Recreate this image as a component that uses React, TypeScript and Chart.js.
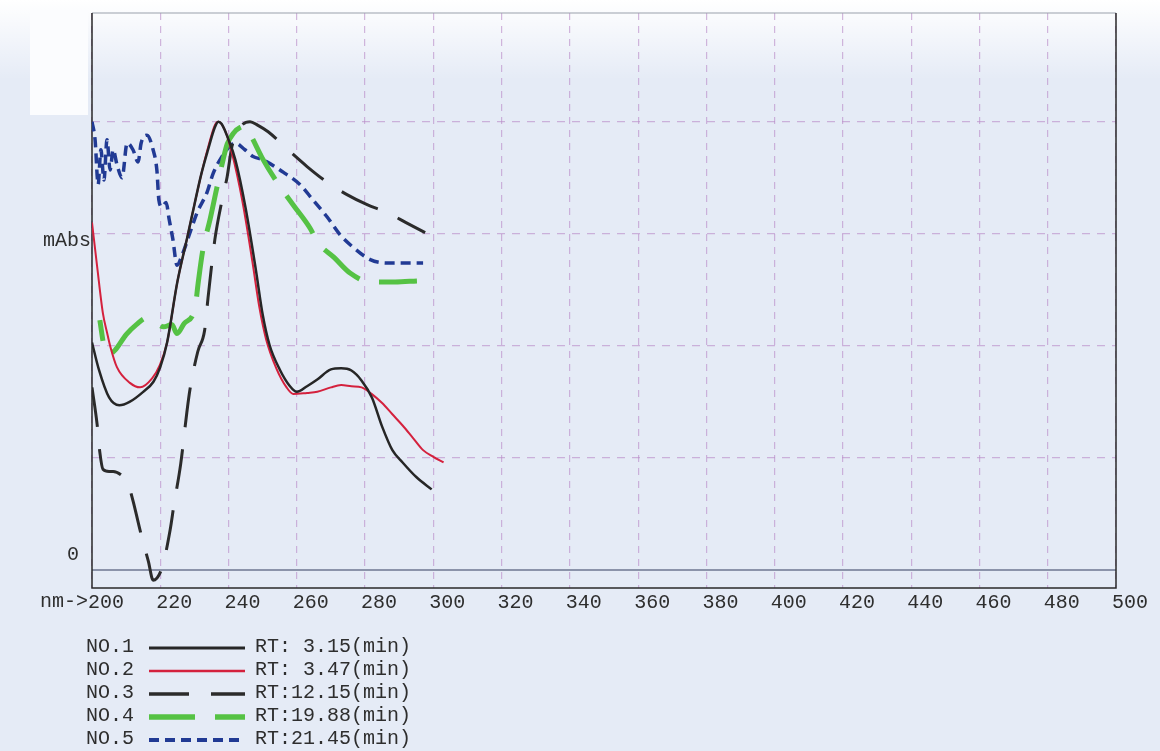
import React, { useEffect, useRef } from "react";
import { Chart, registerables } from "chart.js";

Chart.register(...registerables);

// UV spectra of five peaks, wavelength (nm) vs. absorbance (mAbs, normalised)
const no1Nm = [200, 202, 205, 208, 211, 215, 218, 220, 222, 225, 228, 230, 232, 234, 236, 237, 238, 240, 242, 245, 248, 250, 252, 255, 258, 260, 263, 266, 270, 273, 276, 279, 282, 285, 288, 291, 295, 299.5];
const no1Abs = [2.03, 1.79, 1.54, 1.47, 1.5, 1.59, 1.68, 1.81, 2.03, 2.57, 2.98, 3.26, 3.53, 3.75, 3.95, 4.0, 3.98, 3.84, 3.66, 3.23, 2.68, 2.28, 2.01, 1.79, 1.64, 1.59, 1.64, 1.7, 1.79, 1.8, 1.78, 1.69, 1.54, 1.28, 1.07, 0.96, 0.83, 0.72];

const no2Nm = [200, 201.5, 203.2, 204.4, 205.4, 207.3, 211.1, 214.1, 217.6, 219.9, 222, 225, 228, 230, 232, 234, 236, 237, 239, 241, 244, 247, 249, 251, 254, 257, 259, 263, 266, 270, 273, 276, 279, 282, 285, 288, 291, 294, 297, 300, 303];
const no2Abs = [3.1, 2.71, 2.29, 2.12, 1.99, 1.81, 1.67, 1.63, 1.71, 1.83, 2.03, 2.57, 2.98, 3.26, 3.53, 3.77, 3.97, 4.0, 3.92, 3.72, 3.3, 2.75, 2.35, 2.06, 1.8, 1.63, 1.57, 1.58, 1.59, 1.63, 1.65, 1.64, 1.63, 1.57, 1.49, 1.39, 1.29, 1.18, 1.07, 1.01, 0.96];

const no3Nm = [200, 201.5, 202.3, 203.2, 205, 206.2, 208.5, 210.3, 212, 213.5, 214.7, 216.5, 217.9, 220.5, 222.9, 224, 226, 227.8, 228.7, 231, 233, 234, 236, 238.1, 239.6, 241, 243.4, 246.3, 248.5, 251.6, 257.4, 263, 268.9, 274.7, 280.6, 286.4, 292, 297.6];
const no3Abs = [1.63, 1.3, 1.05, 0.9, 0.88, 0.88, 0.85, 0.79, 0.62, 0.43, 0.28, 0.08, -0.09, 0.02, 0.36, 0.58, 0.95, 1.41, 1.61, 1.95, 2.14, 2.43, 2.95, 3.3, 3.51, 3.78, 3.95, 4.0, 3.97, 3.91, 3.75, 3.6, 3.46, 3.35, 3.26, 3.19, 3.1, 3.01];

const no4Nm = [202.3, 203.5, 204.7, 206.7, 210, 213, 216, 217.9, 221, 223.4, 224.9, 227, 230.2, 231.1, 232.5, 234.6, 236.5, 238.4, 239.6, 241.5, 243.5, 245, 247, 249.8, 254.2, 258.9, 263.9, 266.2, 270.9, 275.6, 281.5, 288.8, 295.2];
const no4Abs = [2.23, 2.0, 1.92, 1.96, 2.1, 2.19, 2.25, 2.23, 2.17, 2.19, 2.11, 2.2, 2.34, 2.56, 2.86, 3.13, 3.4, 3.66, 3.8, 3.9, 3.95, 3.96, 3.85, 3.68, 3.46, 3.26, 3.05, 2.92, 2.79, 2.65, 2.57, 2.57, 2.58];

const no5Nm = [200, 200.9, 201.8, 202.6, 203.5, 204.4, 205.3, 206.2, 207.3, 208.8, 210.3, 212, 213.5, 214.4, 216.1, 217.9, 219, 219.6, 220.5, 221.7, 222.6, 223.7, 224.9, 226.4, 228.7, 230.8, 233.7, 235.5, 237.5, 239.5, 241.9, 244.8, 247.2, 250.1, 256, 260.9, 264.8, 268.9, 272.7, 276.5, 281.5, 286.4, 291.1, 297];
const no5Abs = [4.0, 3.84, 3.44, 3.75, 3.48, 3.84, 3.57, 3.75, 3.62, 3.5, 3.81, 3.75, 3.64, 3.81, 3.88, 3.75, 3.57, 3.3, 3.24, 3.28, 3.13, 2.95, 2.72, 2.81, 3.01, 3.19, 3.37, 3.54, 3.66, 3.75, 3.81, 3.75, 3.69, 3.66, 3.55, 3.44, 3.3, 3.15, 2.99, 2.88, 2.77, 2.74, 2.74, 2.74];

const seriesNames = ["NO.1", "NO.2", "NO.3", "NO.4", "NO.5"];
const retentionTimes = ["3.15", "3.47", "12.15", "19.88", "21.45"];
const yGridValues = [1, 2, 3, 4];

const MONO = '"Liberation Mono", "DejaVu Sans Mono", monospace';
const TEXT = "#2e2e2e";
const GRID = "rgba(186, 140, 200, 0.62)";

const pairs = (xs: number[], ys: number[]) => xs.map((x, i) => ({ x, y: ys[i] }));

const seriesStyles = [
  { color: "#262626", width: 2.5, dash: [] as number[], offset: 0 },
  { color: "#d4213d", width: 2, dash: [] as number[], offset: 0 },
  { color: "#2b2b2b", width: 3, dash: [40, 22], offset: 0 },
  { color: "#55c244", width: 5, dash: [46, 20], offset: 25 },
  { color: "#213a94", width: 3.5, dash: [10, 6], offset: 0 },
];

const seriesData = [
  pairs(no1Nm, no1Abs),
  pairs(no2Nm, no2Abs),
  pairs(no3Nm, no3Abs),
  pairs(no4Nm, no4Abs),
  pairs(no5Nm, no5Abs),
];

// page tint, frame, zero line, axis captions and the legend block
const decorPlugin = {
  id: "decor",
  beforeDraw(chart: any) {
    const { ctx, width, height } = chart;
    ctx.save();
    ctx.fillStyle = "#e5ebf6";
    ctx.fillRect(0, 0, width, height);
    const g = ctx.createLinearGradient(0, 0, 0, 80);
    g.addColorStop(0, "rgba(255,255,255,1)");
    g.addColorStop(1, "rgba(255,255,255,0)");
    ctx.fillStyle = g;
    ctx.fillRect(0, 0, width, 80);
    ctx.fillStyle = "#fbfcfe";
    ctx.fillRect(30, 10, 58, 105);
    ctx.restore();
  },
  beforeDatasetsDraw(chart: any) {
    const { ctx, chartArea } = chart;
    const { left, right, top, bottom } = chartArea;
    const y0 = chart.scales.y.getPixelForValue(0);
    ctx.save();
    ctx.setLineDash([]);
    ctx.strokeStyle = "#6c7690";
    ctx.lineWidth = 1.5;
    ctx.beginPath();
    ctx.moveTo(left, y0);
    ctx.lineTo(right, y0);
    ctx.stroke();
    ctx.strokeStyle = "#9aa0ab";
    ctx.lineWidth = 1.2;
    ctx.beginPath();
    ctx.moveTo(left, top);
    ctx.lineTo(right, top);
    ctx.stroke();
    ctx.strokeStyle = "#2a2a2a";
    ctx.lineWidth = 1.5;
    ctx.beginPath();
    ctx.moveTo(left, top);
    ctx.lineTo(left, bottom);
    ctx.lineTo(right, bottom);
    ctx.lineTo(right, top);
    ctx.stroke();
    ctx.restore();
  },
  afterDraw(chart: any) {
    const { ctx, chartArea } = chart;
    const ys = chart.scales.y;
    const xs = chart.scales.x;
    ctx.save();
    ctx.font = `20px ${MONO}`;
    ctx.fillStyle = TEXT;
    ctx.textBaseline = "middle";
    ctx.textAlign = "right";
    ctx.fillText("0", 79, ys.getPixelForValue(0) - 15);
    ctx.fillText("mAbs", chartArea.left - 1, ys.getPixelForValue(3) + 7);
    // prefix in front of the first wavelength label
    const firstX = xs.getPixelForValue(200) + 14 - 18;
    ctx.fillText("nm->", firstX, chartArea.bottom + 14);

    // legend: name, line sample, retention time
    const rowTop = 647;
    const rowStep = 23;
    chart.data.datasets.forEach((ds: any, i: number) => {
      const y = rowTop + i * rowStep;
      ctx.textAlign = "left";
      ctx.fillStyle = TEXT;
      ctx.fillText(seriesNames[i], 86, y);
      ctx.save();
      ctx.strokeStyle = ds.borderColor;
      ctx.lineWidth = ds.borderWidth + 0.5;
      ctx.setLineDash(ds.borderDash || []);
      ctx.beginPath();
      ctx.moveTo(149, y + 1);
      ctx.lineTo(245, y + 1);
      ctx.stroke();
      ctx.restore();
      ctx.fillText(`RT:${retentionTimes[i].padStart(5, " ")}(min)`, 255, y);
    });
    ctx.restore();
  },
};

export default function App() {
  const canvasRef = useRef<HTMLCanvasElement | null>(null);

  useEffect(() => {
    if (!canvasRef.current) return;
    const chart = new Chart(canvasRef.current, {
      type: "line",
      data: {
        datasets: seriesData.map((data, i) => ({
          label: seriesNames[i],
          data,
          borderColor: seriesStyles[i].color,
          borderWidth: seriesStyles[i].width,
          borderDash: seriesStyles[i].dash,
          borderDashOffset: seriesStyles[i].offset,
          cubicInterpolationMode: "monotone",
          pointRadius: 0,
          fill: false,
        })),
      },
      options: {
        animation: false,
        responsive: false,
        devicePixelRatio: 1,
        layout: { padding: { top: 13, right: 44, left: 0, bottom: 0 } },
        plugins: { legend: { display: false }, tooltip: { enabled: false } },
        scales: {
          x: {
            type: "linear",
            min: 200,
            max: 500,
            afterFit: (s: any) => {
              s.height = 163;
            },
            ticks: {
              stepSize: 20,
              autoSkip: false,
              maxRotation: 0,
              padding: 3,
              labelOffset: 14,
              color: TEXT,
              font: { family: MONO, size: 20 },
            },
            grid: { color: GRID, lineWidth: 1.2, drawTicks: false },
            border: { display: false, dash: [7, 6] },
          },
          y: {
            type: "linear",
            min: -0.16,
            max: 4.97,
            afterFit: (s: any) => {
              s.width = 92;
            },
            afterBuildTicks: (s: any) => {
              s.ticks = yGridValues.map((v) => ({ value: v }));
            },
            ticks: { display: false },
            grid: { color: GRID, lineWidth: 1.2, drawTicks: false },
            border: { display: false, dash: [8, 7] },
          },
        },
      },
      plugins: [decorPlugin],
    });
    return () => chart.destroy();
  }, []);

  return (
    <div style={{ position: "fixed", left: 0, top: 0, width: 1160, height: 751 }}>
      <canvas ref={canvasRef} width={1160} height={751} />
    </div>
  );
}
